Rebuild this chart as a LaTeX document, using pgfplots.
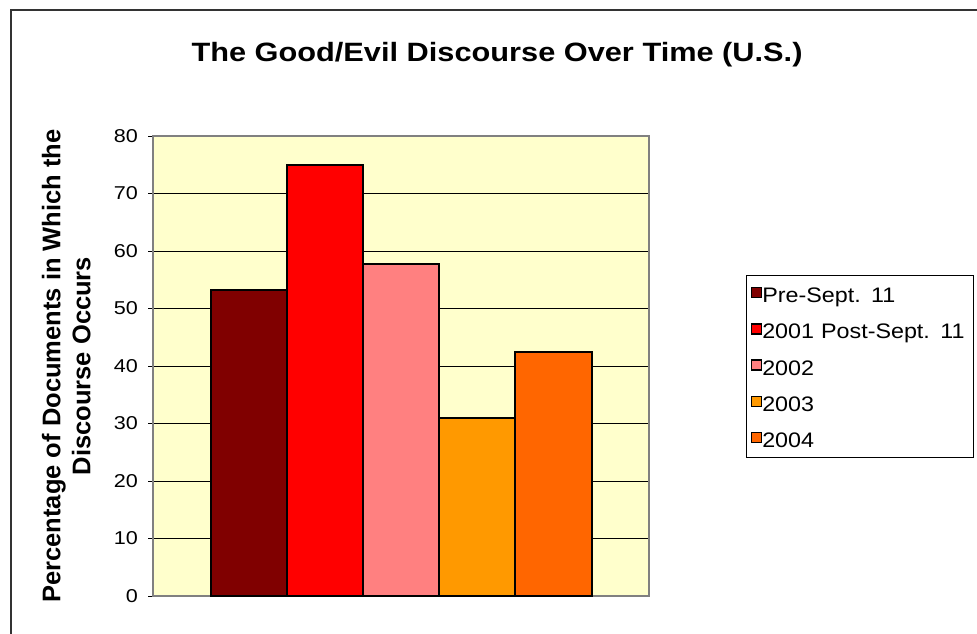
\documentclass[border=0pt]{standalone}
\usepackage{pgfplots}
\pgfplotsset{compat=1.18}
\usepackage{fontspec}
\setmainfont{Liberation Sans}
\newfontfamily\wide{Liberation Sans}[FakeStretch=1.16]
\newfontfamily\legendfont{Liberation Sans}[FakeStretch=1.11]

\definecolor{plotbg}{HTML}{FFFFCC}
\definecolor{preS}{HTML}{800000}
\definecolor{postS}{HTML}{FF0000}
\definecolor{yrtwo}{HTML}{FF8080}
\definecolor{yrthree}{HTML}{FF9900}
\definecolor{yrfour}{HTML}{FF6600}
\definecolor{framegray}{HTML}{808080}

\begin{document}
\begin{tikzpicture}
\useasboundingbox (0,0) rectangle (977bp,-634bp);
% chart area border
\draw[line width=1.5bp, color=black!80] (11bp,-634bp) -- (11bp,-10bp) -- (977bp,-10bp);
% title
\node[font=\wide\bfseries\fontsize{26.5bp}{30bp}\selectfont, anchor=base, inner sep=0pt]
  at (497bp,-61.7bp) {The Good/Evil Discourse Over Time (U.S.)};

\begin{axis}[
  at={(153bp,-596bp)}, anchor=south west,
  scale only axis, width=496bp, height=460bp,
  xmin=-1, xmax=1, ymin=0, ymax=80,
  xtick=\empty,
  ytick={0,10,...,80},
  ytick pos=left,
  tick align=outside,
  major tick length=5bp,
  ytick style={black, line width=0.8bp},
  ymajorgrids=true,
  major grid style={black, line width=0.8bp},
  axis line style={framegray, line width=1.5bp},
  axis background/.style={fill=plotbg},
  /pgf/number format/assume math mode=true,
  yticklabel style={font=\wide\fontsize{18.6bp}{20bp}\selectfont, inner sep=0pt, xshift=-10bp},
  ylabel={Percentage of Documents in Which the\\Discourse Occurs},
  ylabel style={font=\bfseries\fontsize{25.5bp}{30bp}\selectfont, align=center,
    at={(axis description cs:-0.175,0.5)}, anchor=center},
  ybar=0pt, bar width=76.2bp,
  % square swatches with a little room on their left
  every axis plot post/.append style={
    legend image code/.code={%
      \path[draw=none, fill=none] (0bp,0bp) -- (15bp,0bp);
      \draw[#1, line width=1.5bp] (5bp,-3.5bp) rectangle (15bp,6.5bp);}},
  legend cell align=left,
  legend style={at={(axis description cs:1.1956,0.6978)}, anchor=north west,
    draw=black, line width=1bp, fill=white, inner xsep=0bp, inner ysep=6bp,
    row sep=11.25bp, font=\legendfont\fontsize{21bp}{24bp}\selectfont,
    nodes={inner sep=0pt, text height=21bp, text depth=4bp, text width=211bp},
    /tikz/every odd column/.append style={column sep=0bp}},
]
\addplot[draw=black, line width=2bp, fill=preS]    coordinates {(0,53.2)};
\addplot[draw=black, line width=2bp, fill=postS]   coordinates {(0,75)};
\addplot[draw=black, line width=2bp, fill=yrtwo]   coordinates {(0,57.7)};
\addplot[draw=black, line width=2bp, fill=yrthree] coordinates {(0,30.9)};
\addplot[draw=black, line width=2bp, fill=yrfour]  coordinates {(0,42.4)};
\legend{Pre-Sept. 11, 2001 Post-Sept. 11, 2002, 2003, 2004}
\end{axis}
\end{tikzpicture}
\end{document}
